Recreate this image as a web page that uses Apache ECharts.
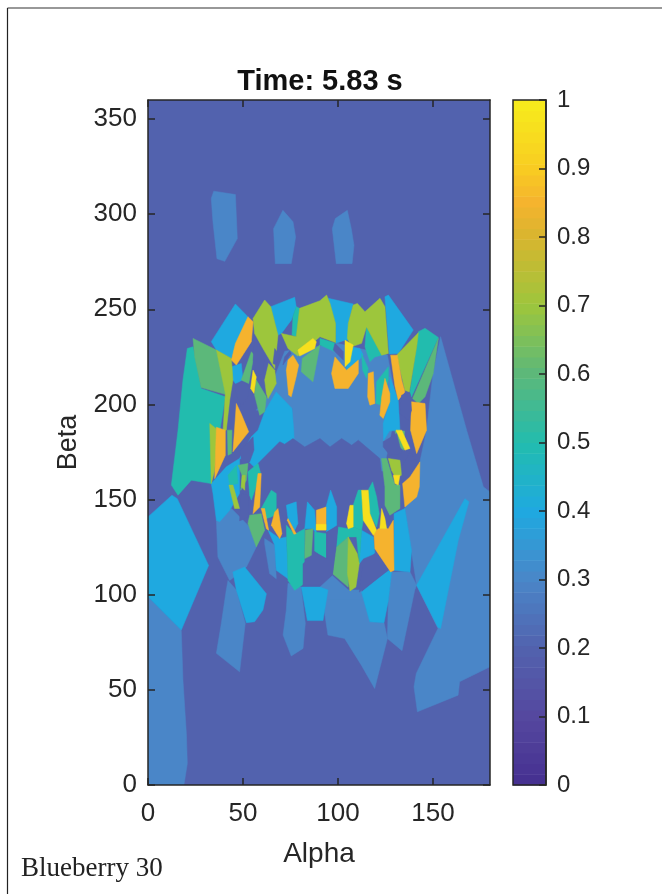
<!DOCTYPE html>
<html>
<head>
<meta charset="utf-8">
<style>html,body{margin:0;padding:0;background:#fff}#c{width:662px;height:894px}</style>
<script src="https://cdn.jsdelivr.net/npm/echarts@6/dist/echarts.min.js"></script>
</head>
<body>
<div id="c"></div>
<script>
const alphaTicks = [0, 50, 100, 150];
const betaTicks = [0, 50, 100, 150, 200, 250, 300, 350];
const colorbarTicks = [0, 0.1, 0.2, 0.3, 0.4, 0.5, 0.6, 0.7, 0.8, 0.9, 1];
const colormapStops = [
  [0, '#452f90'], [0.1, '#55489f'], [0.2, '#5262ae'], [0.3, '#4a86c8'], [0.4, '#1fa9e0'],
  [0.5, '#22bcae'], [0.6, '#5cb87a'], [0.7, '#9dc63c'], [0.8, '#d8b52f'], [0.85, '#f5b32e'],
  [0.9, '#f8cc22'], [1, '#f7ec1c']
];

// Regions: outlines in [alpha, beta], painted in order
const backgroundRegions = [[[0,0],[180,0],[180,360],[0,360]]];
const midBlueRegions = [
  [[33.3,308.2],[34.6,312.1],[46,310.3],[47,287.2],[40.4,275.2],[36.3,276.6],[34.2,295.9]],
  [[71,302],[76.3,296],[77.7,288],[75.4,274],[67,274],[66.1,292.4]],
  [[104.9,302],[107,292.4],[108.4,283.6],[107.4,274],[99.1,274],[97,292.4],[98.6,297.7]],
  [[154,235.6],[167.7,186.5],[176.5,156.7],[180,154],[180,62.1],[164,54.3],[163.2,47.2],[141.8,38.5],[140,51.6],[141.2,58.6],[152.6,82.3],[141.4,105],[135.2,145.3],[143.1,169.8],[146.6,186.5],[150,216.3]],
  [[0,99],[17.5,81.4],[18.4,55.1],[20.2,27],[20.7,11.3],[18.9,0],[0,0]],
  [[57,197],[63,204],[68,218],[72,228],[100,232],[126,226],[131,200],[124,165],[76,165],[76,198]],
  [[36,139.1],[43.9,145.3],[53.5,135.6],[57,125.1],[51.8,114.6],[43,107.5],[36.8,119.8]],
  [[41.2,102.5],[42.1,107.5],[46.5,102.5],[51.2,85],[48.2,59.5],[36,69.2],[38.6,85]],
  [[73.7,106],[80.7,104],[80.7,102.5],[82.8,85],[81.6,71.8],[75.4,67.8],[71.1,78.8],[72.8,92]],
  [[93,102.5],[112.3,102.5],[116.7,85.8],[124.2,85.3],[126,77],[119.3,50.7],[112.3,63],[103.5,77],[94.7,78.8],[93,90.2]],
  [[126.5,97],[128.2,111.9],[137.9,111.9],[141.4,105],[140.4,102.5],[133.7,70.6],[126,77]],
  [[61.4,129.5],[66.7,126],[67.5,108.4],[64,111.1],[61.4,126.9]],
  [[90.5,104],[97,110],[106,102],[112,101],[113,97],[93,97],[89,101]]
];
const cyanRegions = [
  [[0,140.9],[12.6,152.3],[15.4,150.5],[31.9,115.4],[17.5,81.4],[0,99]],
  [[33.3,158.4],[41.2,167.2],[48.2,171.6],[48.2,153.2],[43,144.4],[37.7,138.3],[36,139.1],[34.2,153.2]],
  [[44.7,112],[50.9,114.6],[62.3,100.5],[60.5,92],[56.1,85.8],[51.8,85.3],[46.5,102.5]],
  [[80.7,104],[90.5,104],[94.7,102.5],[92.1,86.4],[83.9,86.4]],
  [[112.4,101.4],[126.5,112.8],[128.2,111.9],[126.5,97],[124.2,85.3],[116.7,85.8]],
  [[141.4,105],[166.8,150.5],[168.9,148.8],[163.3,128.6],[154,82.3],[152.6,82.9]],
  [[129.5,142.6],[135.2,145.3],[138.7,123.3],[137.9,111.9],[129.5,112.8]],
  [[112.4,133.9],[118.6,130.4],[119.4,121.6],[113.3,119],[111.2,116.3]],
  [[63.2,133.9],[69.3,129.5],[72.8,130.4],[73.7,108.4],[67.5,112.8],[66.7,126]],
  [[33.3,233],[46,252.8],[52.6,246.1],[43.9,224.2],[36,228.6]],
  [[64.6,251.4],[77.2,256.3],[78,251.4],[75.4,244.3],[70.2,237.3],[68.4,236.5]],
  [[94.9,255.8],[108,252.8],[105.4,242.6],[105.4,233.8],[103.7,233.8],[98.9,232.1],[98.7,242.6]],
  [[124.7,256.6],[126.5,257.5],[139.6,239.1],[131.7,226.8],[127,226.5]],
  [[105.4,230.3],[111.5,229.4],[113.3,226],[104.5,215.4],[104.5,221.5]],
  [[127.3,214.5],[131.7,202.3],[132.6,186.5],[127,186],[124,181],[123.8,190],[127.3,201.4]],
  [[43.9,219.8],[49.1,221.5],[50,212.8],[46,211],[44.7,212.8]],
  [[57.9,186.5],[61.4,196.1],[67.5,206.6],[75.8,197.9],[76.7,186.5],[77,178],[58,165],[53,170],[48.2,171.6],[54.4,183]]
];
const mouthRegions = [
  [[57.9,169],[69.3,180.4],[71.9,179.1],[76.3,182.1],[82.5,177.7],[90.5,182.1],[95.8,177.7],[101.9,182.1],[107.2,178.6],[110.7,181.2],[122,171.6],[124.7,148.8],[117.7,157.6],[111.6,155.8],[106.3,146.1],[105.4,134.7],[100.1,135.6],[99.3,147],[96.1,154.9],[93.7,146.1],[90.5,145.3],[83.9,148.8],[83.3,134.7],[78.9,137.4],[78,148.8],[72.8,147],[72.8,138.3],[68.4,145.3],[67.5,153.2],[64,154.9],[58.8,143.5],[59.6,162]]
];
const toothRegions = [
  [[72.8,147],[78,148.8],[78.9,137.4],[77.2,133.9],[73.7,140]],
  [[83.9,148.8],[87.7,144.4],[88.6,132],[86.8,134.7],[82.5,134.7]],
  [[93.7,146.1],[96.1,155],[99.3,146.1],[99.3,136.5],[94,133]]
];
const tealRegions = [
  [[20.7,229.4],[23.7,230.3],[28,208.4],[40.7,204],[33.3,158.4],[22.8,160.2],[15.8,152.3],[12.3,157.6],[15.8,186.5],[18.4,212.8]],
  [[78,251.4],[79.8,250.5],[78,235.6],[75.8,236.5],[76.3,246.1]],
  [[90.5,234.7],[90.5,231.2],[98.4,227.7],[98.7,232.1]],
  [[142.3,238.2],[145.8,240],[152.8,235.2],[138.7,204],[137.9,206.6],[141.4,230.3]],
  [[115,240.8],[123,225.9],[119.4,225],[116.8,222.4],[114.2,230.3]],
  [[112.4,226.8],[115.9,218.9],[115,213.7],[113,218]],
  [[120.3,211.9],[126.5,219.8],[126.5,212.8],[123,199.6],[120,200.5]],
  [[108,147],[110.7,155],[112.4,155],[113.3,139.1],[112.4,133.9],[108,135.6]],
  [[115.9,155],[118.2,159.3],[120.3,151.4],[121.7,142.6],[120.3,135.6],[116.8,142.6]],
  [[100.1,135.6],[105.4,134.7],[108,135.6],[112.4,133.9],[111.2,116.3],[109.8,130.4],[105.4,130.4],[99.3,125.1]],
  [[42.1,162.8],[46.5,168],[47.4,158.4],[43,157.6]],
  [[52.6,164.6],[57.9,169],[59.3,163.7],[54.4,149.7],[53.5,152.3]],
  [[59.6,145.3],[64.9,154.9],[67.5,153.2],[67.5,142.6],[64.9,140.9],[62.3,140]],
  [[72.8,136.5],[77.2,131.8],[82.5,134.7],[82.1,105.8],[77.2,102.3],[73.7,107.5]],
  [[87.7,133],[93.7,132.1],[93.7,119],[87.7,123]]
];
const greenRegions = [
  [[23.7,234.7],[36,228.6],[42,204.9],[28,208.9],[24.6,225]],
  [[81.2,224.2],[90.5,231.2],[86.8,211.9],[80.7,217.2]],
  [[152.8,234.7],[150.1,216.3],[145.8,204],[142.3,200.5],[139.3,203.1]],
  [[49.1,212.8],[54.4,227.7],[55.8,226],[53,211]],
  [[57,212.8],[62.3,204],[61.4,196.1],[58.8,194.3],[56.1,204.9]],
  [[122.9,171.6],[125.6,171.6],[128.2,162.8],[130,157.6],[132.6,157.6],[132.6,145.3],[127.3,141.8],[124.7,147],[124.7,156.7]],
  [[99.3,125.1],[105.4,130.4],[105.4,104],[97.2,111]],
  [[47.4,168],[52.6,169],[51.8,160.2],[48.8,154.9],[49.5,162.8]],
  [[53.5,141.8],[59.6,142.6],[61.4,133.9],[57,125.1],[52.6,137.4]],
  [[82.8,133.9],[86.8,134.7],[86,120.7],[82.5,119]],
  [[41.8,186.5],[44.2,186.5],[43.9,174.2],[42.1,173.3]],
  [[130,186],[135,186],[134.5,176],[132,178]]
];
const limeRegions = [
  [[36,228.6],[43.9,224.2],[44.7,212.8],[43,202.3],[41.2,186.5],[39.5,186.5],[40.7,205.8]],
  [[55.3,245.2],[61.4,254.9],[64.6,251.4],[68.4,236.5],[66.7,218.9],[60.5,229.4],[56.1,237.3]],
  [[70.2,237.3],[78,235.6],[79.8,250.5],[90.5,254.5],[94,257.5],[95.8,253.1],[98.7,242.6],[98.7,232.6],[90.5,235.6],[78.9,225.4],[73.7,229.4]],
  [[108,252.2],[110.2,253.1],[114.2,248.7],[122.1,255.8],[124.7,251.4],[126.5,226.8],[123,225.9],[115,240.8],[112.4,232.1],[107.2,230.3],[104.9,234.7],[105.4,242.6]],
  [[131.7,226.8],[142.3,237.7],[141.4,230.3],[137.5,206.6],[135.2,207.5],[130.9,225.9]],
  [[61.4,212.8],[63.5,221.5],[66.7,218],[67.5,211],[63.2,203.1],[62.3,205.8]],
  [[126.5,171.6],[132.6,170.7],[133.5,162.8],[130,162],[128.2,165.4]],
  [[105.4,130.4],[110.1,121.6],[111.2,116.3],[109.4,104],[106.3,102],[105,111]],
  [[32.5,190],[36.8,186.5],[35,165],[33.3,158.4]],
  [[42.6,157.6],[44.7,157.6],[48.2,145.3],[45.6,145.3]],
  [[49.6,162.8],[51.2,162.8],[50.9,154.9],[49.1,156.7]]
];
const orangeRegions = [
  [[52.6,246.1],[55.3,243.5],[54.4,233],[46.5,220.7],[43.9,223.3],[46,232]],
  [[73.7,223.3],[76.3,225.9],[79.3,220.7],[78,214.5],[75.4,204],[74,204.9],[72.8,218]],
  [[46.5,200.5],[49,195.2],[53,185.6],[44.7,175.1],[45.5,186]],
  [[36,188],[40.7,186.5],[40.7,173.3],[35.1,161]],
  [[98.4,225],[104.5,218],[110.7,223.3],[110.7,216.3],[105.4,208.4],[98.4,208.4],[96.6,216.3]],
  [[115.9,216.3],[118.6,217.2],[119.4,200.5],[116.8,199.6],[115.6,204]],
  [[124.7,213.7],[127.3,205.8],[127.3,201.4],[123.8,192.6],[122,194.3],[123,204]],
  [[127.7,225.9],[131.2,225.9],[133.5,212.8],[135.2,206.6],[131.7,202.3],[130,209.3]],
  [[138.7,201.4],[145.8,200.5],[146.6,186.5],[141.4,174.2],[138.2,186.5]],
  [[143.1,169.8],[142.8,156.7],[141.4,151.4],[135.2,146.1],[134,158.4],[137.9,161.9]],
  [[118.9,132.1],[121.2,134.7],[126.5,134.7],[129.1,139.1],[129.5,112.8],[127.7,112],[119.4,124.2]],
  [[57.9,163.7],[59.6,163.7],[58.8,146.1],[55.3,142.6],[56.5,153.2]],
  [[59.6,145.3],[61.4,145.3],[63.5,133.9],[62.3,134.7]],
  [[66.7,143.5],[68.4,145.3],[70.5,132.1],[69.3,129.5],[64.9,136.5]],
  [[73.7,140],[78,132.1],[76.8,131.8],[73.3,139.1]],
  [[88.6,144.4],[93.7,146.1],[93.7,134],[88.6,134]]
];
const yellowRegions = [
  [[78.9,228.6],[86.8,234.7],[88.6,233],[87.7,229.4],[79.8,225.4]],
  [[55.3,218],[57,214.5],[55.8,205.8],[54,208.4]],
  [[103.7,233.8],[108,231.2],[106.3,222.4],[103.7,219.8]],
  [[130.5,186.5],[133.5,186.5],[137.9,176.9],[135.2,176]],
  [[129.1,162.8],[132.6,162.8],[131.7,157.6],[130,158.4]],
  [[112.4,154.9],[115.9,154.9],[116.8,142.6],[120.3,133.9],[118.6,131.2],[113.3,139.1]],
  [[106.3,147],[108,147],[108,135.6],[105.4,134.7],[104.5,137.4]],
  [[123,145.3],[124.7,140],[125.6,134.7],[122,134.7]],
  [[88.6,137],[93.7,137],[93.7,134],[88.6,134]]
];
const pocketRegions = [
  [[56.1,235.6],[61.4,226],[60.5,216.3],[57.5,214.5],[55.3,223.3]],
  [[66.7,229.4],[69.3,225.9],[67.5,220.7],[65.8,221.5]],
  [[74.6,228.2],[75.4,226.8],[71,220.7],[71.9,225]],
  [[46,209.3],[49.1,212.2],[53.5,209.3],[52.6,204],[49.1,198.7],[46.5,204.9]],
  [[98.4,232.1],[102.8,227.7],[102.8,223.3],[97.5,228.6]],
  [[133.5,204.9],[137.9,205.8],[138.7,197],[137,191.7],[132.6,195.2]],
  [[123.8,180.4],[130.9,184.7],[133.5,174.2],[127.3,173.3],[123.8,177.7]],
  [[137.9,175.1],[141.4,169.8],[137.9,162.8],[133.5,160.2],[134,168.1]],
  [[48.8,176],[55.3,183],[55.8,176],[53.5,169.8],[49.1,169.8]],
  [[49.1,153.2],[52.6,152.3],[53,140.9],[48.2,138.8]],
  [[94,133],[100,136],[97.2,111],[90.5,105],[81.6,105],[81.6,116.3],[88,122],[94,119]],
  [[113,115.4],[119.4,121.6],[126.5,112.8],[111.2,101.4]]
];
const regionLayers = [
  [0.2, backgroundRegions], [0.3, midBlueRegions], [0.4, cyanRegions], [0.2, mouthRegions], [0.4, toothRegions],
  [0.5, tealRegions], [0.6, greenRegions], [0.7, limeRegions], [0.85, orangeRegions], [0.96, yellowRegions], [0.2, pocketRegions]
];

function hexToRgb(h){return [1,3,5].map(i=>parseInt(h.substr(i,2),16));}
function colorOf(v){
  for(let i=1;i<colormapStops.length;i++){
    if(v<=colormapStops[i][0]){
      const a=colormapStops[i-1],b=colormapStops[i],t=(v-a[0])/(b[0]-a[0]);
      const ca=hexToRgb(a[1]),cb=hexToRgb(b[1]);
      return 'rgb('+ca.map((c,k)=>Math.round(c+(cb[k]-c)*t)).join(',')+')';
    }
  }
  return colormapStops[colormapStops.length-1][1];
}
const regionList=[];
regionLayers.forEach(l=>l[1].forEach(p=>regionList.push({level:l[0],outline:p})));
const bandCount=64;
const bands=[];
for(let i=0;i<bandCount;i++) bands.push([i/bandCount,(i+1)/bandCount]);

const ink='#262626';
const font='"Liberation Sans",Arial,sans-serif';
const chart=echarts.init(document.getElementById('c'),null,{renderer:'canvas'});
const axisLine={show:true,onZero:false,lineStyle:{color:ink,width:1.5}};
const ticksAt=v=>({lineStyle:{color:ink,width:1.5},length:7,inside:true,customValues:v});
chart.setOption({
  animation:false,
  backgroundColor:'#ffffff',
  title:{text:'Time: 5.83 s',left:315,top:62,textAlign:'center',textStyle:{fontFamily:font,fontWeight:'bold',fontSize:29,color:'#111'}},
  grid:[
    {left:148,top:100,width:342,height:685,show:false},
    {left:513,top:100,width:33,height:685,show:false}
  ],
  xAxis:[
    {gridIndex:0,z:5,type:'value',min:0,max:180,name:'Alpha',nameLocation:'middle',nameGap:55,
     nameTextStyle:{fontFamily:font,fontSize:28,color:ink},
     axisLine,axisTick:ticksAt(alphaTicks),splitLine:{show:false},
     axisLabel:{fontFamily:font,fontSize:26,color:ink,margin:16,customValues:alphaTicks}},
    {gridIndex:0,z:5,type:'value',position:'top',min:0,max:180,
     axisLine,axisTick:ticksAt(alphaTicks),splitLine:{show:false},axisLabel:{show:false}},
    {gridIndex:1,type:'value',min:0,max:1,show:false}
  ],
  yAxis:[
    {gridIndex:0,z:5,type:'value',min:0,max:360,name:'Beta',nameLocation:'middle',nameGap:66,
     nameTextStyle:{fontFamily:font,fontSize:27,color:ink},
     axisLine,axisTick:ticksAt(betaTicks),splitLine:{show:false},
     axisLabel:{fontFamily:font,fontSize:26,color:ink,margin:11,customValues:betaTicks}},
    {gridIndex:0,z:5,type:'value',position:'right',min:0,max:360,
     axisLine,axisTick:ticksAt(betaTicks),splitLine:{show:false},axisLabel:{show:false}},
    {gridIndex:1,z:5,type:'value',position:'right',min:0,max:1,
     axisLine,axisTick:ticksAt(colorbarTicks),splitLine:{show:false},
     axisLabel:{fontFamily:font,fontSize:24,color:ink,margin:11,customValues:colorbarTicks,formatter:v=>String(+v.toFixed(1))}}
  ],
  graphic:[
    {type:'line',shape:{x1:7.5,y1:8,x2:662,y2:8},style:{stroke:'#333',lineWidth:1.2},silent:true},
    {type:'line',shape:{x1:7.5,y1:8,x2:7.5,y2:894},style:{stroke:'#222',lineWidth:1.2},silent:true},
    {type:'rect',shape:{x:513,y:100,width:33,height:685},style:{fill:'none',stroke:ink,lineWidth:1.5},silent:true,z:20},
    {type:'text',left:21,top:855,style:{text:'Blueberry 30',fontFamily:'"Liberation Serif",serif',fontSize:27,fill:'#222'}}
  ],
  series:[
    {type:'custom',z:1,xAxisIndex:0,yAxisIndex:0,coordinateSystem:'cartesian2d',clip:true,silent:true,
     data:regionList.map(r=>[r.outline[0][0],r.outline[0][1],r.level]),
     encode:{x:0,y:1},
     renderItem:(params,api)=>{
       const r=regionList[params.dataIndex];
       const col=colorOf(r.level);
       return {type:'polygon',shape:{points:r.outline.map(p=>api.coord(p))},style:{fill:col,stroke:col,lineWidth:0.5}};
     }},
    {type:'custom',z:1,xAxisIndex:2,yAxisIndex:2,coordinateSystem:'cartesian2d',silent:true,
     data:bands.map(b=>[0,b[0],1,b[1]]),
     encode:{x:[0,2],y:[1,3]},
     renderItem:(params,api)=>{
       const a=api.coord([api.value(0),api.value(1)]),b=api.coord([api.value(2),api.value(3)]);
       return {type:'rect',shape:{x:a[0],y:b[1],width:b[0]-a[0],height:a[1]-b[1]+0.5},style:{fill:colorOf((api.value(1)+api.value(3))/2)}};
     }}
  ]
});
</script>
</body>
</html>
